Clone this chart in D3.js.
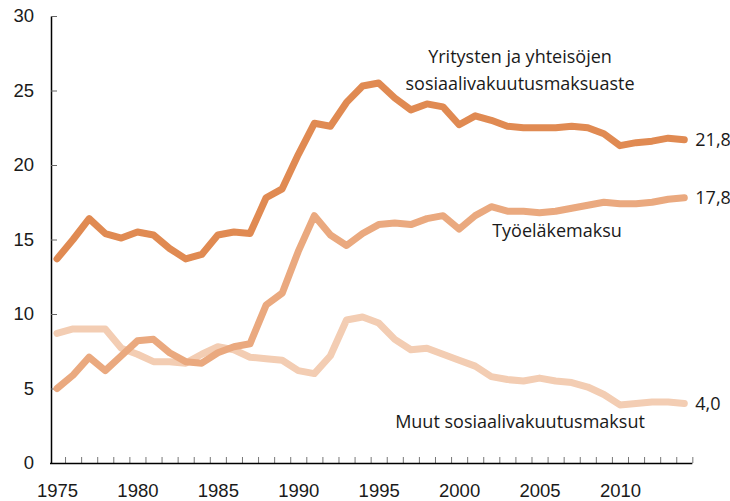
<!DOCTYPE html>
<html>
<head>
<meta charset="utf-8">
<script src="https://cdn.jsdelivr.net/npm/d3@7"></script>
<style>
  body { margin: 0; background: #fff; }
  svg { display: block; font-family: "Open Sans", sans-serif; }
</style>
</head>
<body>
<div id="chart"></div>
<script>
const years = d3.range(1975, 2015);

const yritysten = [13.7, 15.0, 16.4, 15.4, 15.1, 15.5, 15.3, 14.4, 13.7, 14.0,
  15.3, 15.5, 15.4, 17.8, 18.4, 20.7, 22.8, 22.6, 24.2, 25.3,
  25.5, 24.5, 23.7, 24.1, 23.9, 22.7, 23.3, 23.0, 22.6, 22.5,
  22.5, 22.5, 22.6, 22.5, 22.1, 21.3, 21.5, 21.6, 21.8, 21.7];

const tyoelake = [5.0, 5.9, 7.1, 6.2, 7.2, 8.2, 8.3, 7.4, 6.8, 6.7,
  7.4, 7.8, 8.0, 10.6, 11.4, 14.2, 16.6, 15.3, 14.6, 15.4,
  16.0, 16.1, 16.0, 16.4, 16.6, 15.7, 16.6, 17.2, 16.9, 16.9,
  16.8, 16.9, 17.1, 17.3, 17.5, 17.4, 17.4, 17.5, 17.7, 17.8];

const muut = [8.7, 9.0, 9.0, 9.0, 7.7, 7.3, 6.8, 6.8, 6.7, 7.3,
  7.8, 7.6, 7.1, 7.0, 6.9, 6.2, 6.0, 7.2, 9.6, 9.8,
  9.4, 8.3, 7.6, 7.7, 7.3, 6.9, 6.5, 5.8, 5.6, 5.5,
  5.7, 5.5, 5.4, 5.1, 4.6, 3.9, 4.0, 4.1, 4.1, 4.0];

const yTicks = [0, 5, 10, 15, 20, 25, 30];
const xLabels = [1975, 1980, 1985, 1990, 1995, 2000, 2005, 2010];
const endLabels = ["4,0", "17,8", "21,8"];

const series = [
  { name: "muut", values: muut, color: "#f3cdb3", end: endLabels[0] },
  { name: "tyoelake", values: tyoelake, color: "#eaa97f", end: endLabels[1] },
  { name: "yritysten", values: yritysten, color: "#e08a52", end: endLabels[2] },
];

const width = 730, height = 501;

const x = d3.scaleLinear().domain([1975, 2014]).range([57, 684.3]);
const y = d3.scaleLinear().domain([0, 30]).range([463, 16]);

const svg = d3.select("#chart").append("svg")
  .attr("width", width)
  .attr("height", height);

// y axis, ticks point inward
const yAxis = svg.append("g")
  .attr("transform", "translate(51,0)")
  .call(d3.axisLeft(y).tickValues(yTicks).tickSizeInner(-6).tickSizeOuter(0).tickPadding(17));
yAxis.select(".domain").attr("stroke", "#000").attr("stroke-width", 1.5);
yAxis.selectAll(".tick line").attr("stroke", "#666");
yAxis.selectAll("text").attr("font-size", 18.5).attr("fill", "#1a1a1a");

// x axis: half-year ticks without labels
const halfYears = years.map(d => d + 0.5);
const xAxis = svg.append("g")
  .attr("transform", "translate(0,463)")
  .call(d3.axisBottom(x).tickValues(halfYears).tickSizeInner(-6).tickSizeOuter(0).tickFormat(""));
xAxis.select(".domain").remove();
xAxis.selectAll(".tick line").attr("stroke", "#777");
svg.append("line")
  .attr("x1", 50).attr("x2", x(2014.5))
  .attr("y1", 463.5).attr("y2", 463.5)
  .attr("stroke", "#000").attr("stroke-width", 1.5);

// x labels at the years
const xLab = svg.append("g")
  .attr("transform", "translate(0,463)")
  .call(d3.axisBottom(x).tickValues(xLabels).tickSize(0).tickPadding(21).tickFormat(d3.format("d")));
xLab.select(".domain").remove();
xLab.selectAll("text").attr("font-size", 18.5).attr("fill", "#1a1a1a");

const line = d3.line()
  .x((d, i) => x(years[i]))
  .y(d => y(d));

svg.selectAll(".series")
  .data(series)
  .enter()
  .append("path")
  .attr("class", "series")
  .attr("d", d => line(d.values))
  .attr("fill", "none")
  .attr("stroke", d => d.color)
  .attr("stroke-width", 7)
  .attr("stroke-linejoin", "round")
  .attr("stroke-linecap", "round");

// end values
svg.selectAll(".endlabel")
  .data(series)
  .enter()
  .append("text")
  .attr("class", "endlabel")
  .attr("x", x(2014) + 11)
  .attr("y", d => y(d.values[d.values.length - 1]))
  .attr("dy", "0.35em")
  .attr("font-size", 18)
  .attr("fill", "#1a1a1a")
  .text(d => d.end);

// series names
const names = [
  { lines: ["Yritysten ja yhteisöjen", "sosiaalivakuutusmaksuaste"], x: 520, y: 63 },
  { lines: ["Työeläkemaksu"], x: 557, y: 237 },
  { lines: ["Muut sosiaalivakuutusmaksut"], x: 520, y: 428 },
];
names.forEach(n => {
  const t = svg.append("text")
    .attr("text-anchor", "middle")
    .attr("font-size", 18)
    .attr("fill", "#1a1a1a");
  n.lines.forEach((l, i) => {
    t.append("tspan").attr("x", n.x).attr("y", n.y + i * 27).text(l);
  });
});
</script>
</body>
</html>
